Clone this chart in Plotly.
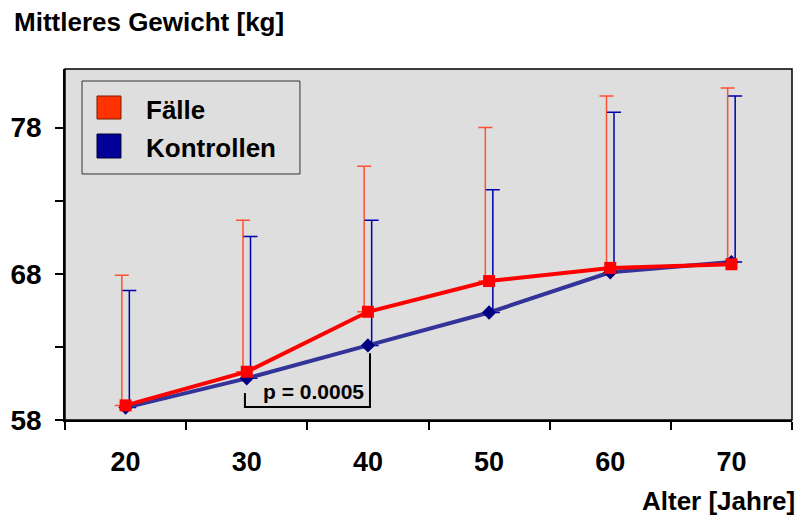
import plotly.graph_objects as go

# Altersgruppen (Jahre)
alter = ["20", "30", "40", "50", "60", "70"]

# Mittleres Gewicht [kg] und Standardabweichung (nur nach oben dargestellt)
faelle_mittel = [59.0, 61.3, 65.4, 67.5, 68.4, 68.65]
faelle_sd = [8.9, 10.35, 9.95, 10.5, 11.75, 12.05]

kontrollen_mittel = [58.85, 60.85, 63.1, 65.35, 68.1, 68.8]
kontrollen_sd = [8.0, 9.7, 8.55, 8.4, 10.95, 11.35]

y_ticks = [58, 63, 68, 73, 78]
y_ticktext = ["58", "", "68", "", "78"]

p_text = "p = 0.0005"

FONT = "Liberation Sans, Arial, Helvetica, sans-serif"
RED_LINE = "#ff0000"
RED_BAR = "#ff5030"
BLUE_LINE = "#333399"
BLUE_MARK = "#000080"
BLUE_BAR = "#0000a8"

idx = list(range(len(alter)))
off_red, off_blue = -0.031, 0.031

fig = go.Figure()

# category axis carries the tick labels and boundary ticks
fig.add_trace(go.Scatter(x=alter, y=[None] * len(alter), mode="markers",
                         showlegend=False, hoverinfo="skip"))

# upper error bars, slightly shifted left (Fälle) and right (Kontrollen)
fig.add_trace(go.Scatter(
    x=[i + off_red for i in idx], y=faelle_mittel, mode="markers",
    marker=dict(size=2, color="rgba(0,0,0,0)"),
    error_y=dict(type="data", symmetric=False, array=faelle_sd,
                 arrayminus=[0] * len(idx), color=RED_BAR, thickness=1.5, width=7),
    xaxis="x2", showlegend=False, hoverinfo="skip"))
fig.add_trace(go.Scatter(
    x=[i + off_blue for i in idx], y=kontrollen_mittel, mode="markers",
    marker=dict(size=2, color="rgba(0,0,0,0)"),
    error_y=dict(type="data", symmetric=False, array=kontrollen_sd,
                 arrayminus=[0] * len(idx), color=BLUE_BAR, thickness=1.5, width=7),
    xaxis="x2", showlegend=False, hoverinfo="skip"))

# mean lines
fig.add_trace(go.Scatter(
    x=idx, y=kontrollen_mittel, mode="lines+markers", name="Kontrollen",
    line=dict(color=BLUE_LINE, width=4),
    marker=dict(symbol="diamond", size=11, color=BLUE_MARK),
    xaxis="x2", showlegend=False))
fig.add_trace(go.Scatter(
    x=idx, y=faelle_mittel, mode="lines+markers", name="Fälle",
    line=dict(color=RED_LINE, width=4),
    marker=dict(symbol="square", size=12, color=RED_LINE),
    xaxis="x2", showlegend=False))

shapes = [
    # frame around the plotting area
    dict(type="rect", xref="paper", yref="paper", x0=0, x1=1, y0=0, y1=1,
         line=dict(color="black", width=1.5), layer="above"),
    # legend box
    dict(type="rect", xref="paper", yref="paper", x0=0.0234, x1=0.3232,
         y0=0.7009, y1=0.9658, line=dict(color="#333333", width=1),
         fillcolor="rgba(0,0,0,0)"),
    dict(type="rect", xref="paper", yref="paper", x0=0.0440, x1=0.0770,
         y0=0.8575, y1=0.9231, line=dict(color="#7a1a00", width=1),
         fillcolor="#ff3300"),
    dict(type="rect", xref="paper", yref="paper", x0=0.0440, x1=0.0770,
         y0=0.7464, y1=0.8148, line=dict(color="#000033", width=1),
         fillcolor="#000099"),
    # significance bracket between 30 and 40 years
    dict(type="path", xref="x2", yref="y",
         path="M 0.985 59.84 L 0.985 58.89 L 2.017 58.89 L 2.017 62.57",
         line=dict(color="black", width=2)),
]

annotations = [
    dict(text="<b>Mittleres Gewicht [kg]</b>", xref="paper", yref="paper",
         x=-0.0729, y=1.134, xanchor="left", yanchor="middle", showarrow=False,
         font=dict(family=FONT, size=26, color="black")),
    dict(text="<b>Alter [Jahre]</b>", xref="paper", yref="paper",
         x=1.0069, y=-0.2308, xanchor="right", yanchor="middle", showarrow=False,
         font=dict(family=FONT, size=26, color="black")),
    dict(text="<b>Fälle</b>", xref="paper", yref="paper",
         x=0.1087, y=0.8832, xanchor="left", yanchor="middle", showarrow=False,
         font=dict(family=FONT, size=26, color="black")),
    dict(text="<b>Kontrollen</b>", xref="paper", yref="paper",
         x=0.1087, y=0.7749, xanchor="left", yanchor="middle", showarrow=False,
         font=dict(family=FONT, size=26, color="black")),
    dict(text="<b>" + p_text + "</b>", xref="x2", yref="y",
         x=1.547, y=59.98, xanchor="center", yanchor="middle", showarrow=False,
         font=dict(family=FONT, size=21, color="black")),
]

fig.update_layout(
    width=802, height=518,
    margin=dict(l=65, r=10, t=69, b=98),
    paper_bgcolor="white",
    plot_bgcolor="#dedede",
    showlegend=False,
    xaxis=dict(type="category", categoryorder="array", categoryarray=alter,
               range=[-0.5, 5.5], tickson="boundaries", ticks="outside",
               ticklen=8, tickwidth=1.5, tickcolor="black",
               showline=True, linecolor="black", linewidth=1.5,
               showgrid=False, zeroline=False, ticklabelstandoff=17,
               tickfont=dict(family=FONT, size=27, color="black", weight="bold")),
    xaxis2=dict(overlaying="x", anchor="y", range=[-0.5, 5.5], visible=False),
    yaxis=dict(range=[58, 82], tickmode="array", tickvals=y_ticks,
               ticktext=y_ticktext, ticks="outside", ticklen=8, tickwidth=1.5,
               tickcolor="black", showline=True, linecolor="black",
               linewidth=1.5, showgrid=False, zeroline=False,
               ticklabelstandoff=8,
               tickfont=dict(family=FONT, size=28, color="black", weight="bold")),
    shapes=shapes,
    annotations=annotations,
)

fig.write_html("out.html")
